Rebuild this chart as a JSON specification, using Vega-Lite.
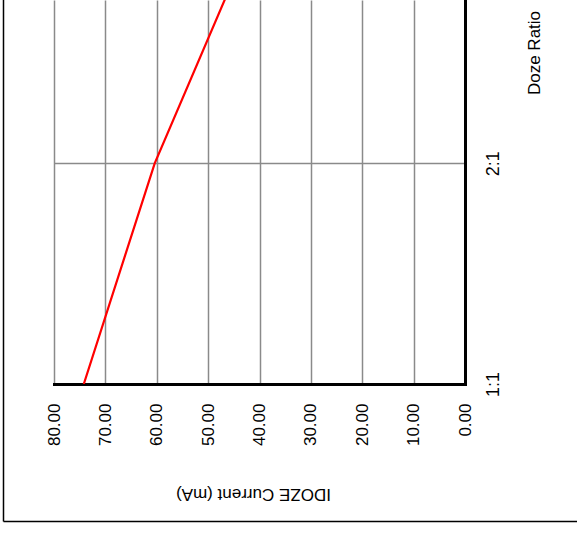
{
  "$schema": "https://vega.github.io/schema/vega-lite/v6.json",
  "width": 411,
  "height": 384,
  "autosize": {"type": "none"},
  "padding": {"left": 54, "top": 0, "right": 112, "bottom": 150},
  "background": "white",
  "config": {"view": {"stroke": null}, "font": "Liberation Sans"},
  "layer": [
    {
      "data": {"values": [
        {"ratio": 1, "label": "1:1", "current": 74.2},
        {"ratio": 2, "label": "2:1", "current": 60.4},
        {"ratio": 3, "label": "3:1", "current": 42.0}
      ]},
      "mark": {"type": "line", "color": "#ff0000", "strokeWidth": 2.2, "clip": true},
      "encoding": {
        "x": {
          "field": "current", "type": "quantitative",
          "scale": {"domain": [0, 80], "reverse": true, "nice": false, "zero": true},
          "axis": {
            "title": "IDOZE Current (mA)",
            "values": [0, 10, 20, 30, 40, 50, 60, 70, 80],
            "format": ".2f",
            "labelAngle": -90, "labelAlign": "right", "labelBaseline": "middle",
            "labelPadding": 19, "labelFontSize": 17, "labelColor": "black",
            "labelFlush": false, "labelOverlap": false,
            "ticks": false,
            "domainColor": "black", "domainWidth": 3, "domainCap": "square",
            "gridColor": "#8a8a8a", "gridWidth": 1.5, "gridOpacity": 1,
            "titleAngle": 180, "titleFontSize": 17, "titleFontWeight": "normal", "titleColor": "black",
            "titleX": 199, "titleY": 109, "titleAlign": "center", "titleBaseline": "middle"
          }
        },
        "y": {
          "field": "ratio", "type": "quantitative",
          "scale": {"domain": [1, 2.74], "nice": false, "zero": false},
          "axis": {
            "title": "Doze Ratio", "orient": "right",
            "values": [1, 2],
            "labelExpr": "datum.value + ':1'",
            "labelAngle": -90, "labelAlign": "center", "labelBaseline": "top",
            "labelPadding": 19, "labelFontSize": 18, "labelColor": "black",
            "labelFlush": false, "labelOverlap": false,
            "ticks": false,
            "domainColor": "black", "domainWidth": 3, "domainCap": "square",
            "gridColor": "#8a8a8a", "gridWidth": 1.5, "gridOpacity": 1,
            "titleAngle": -90, "titleFontSize": 17, "titleFontWeight": "normal", "titleColor": "black",
            "titleX": 69.5, "titleY": 52.5, "titleAlign": "center", "titleBaseline": "middle"
          }
        }
      }
    },
    {
      "data": {"values": [{"frame": "left"}]},
      "mark": {"type": "rule", "color": "black", "strokeWidth": 1.5, "clip": false},
      "encoding": {"x": {"datum": 89.83}, "y": {"datum": 2.74}, "y2": {"datum": 0.377}}
    },
    {
      "data": {"values": [{"frame": "bottom"}]},
      "mark": {"type": "rule", "color": "black", "strokeWidth": 1.5, "clip": false},
      "encoding": {"y": {"datum": 0.377}, "x": {"datum": 89.83}, "x2": {"datum": -30}}
    }
  ]
}
